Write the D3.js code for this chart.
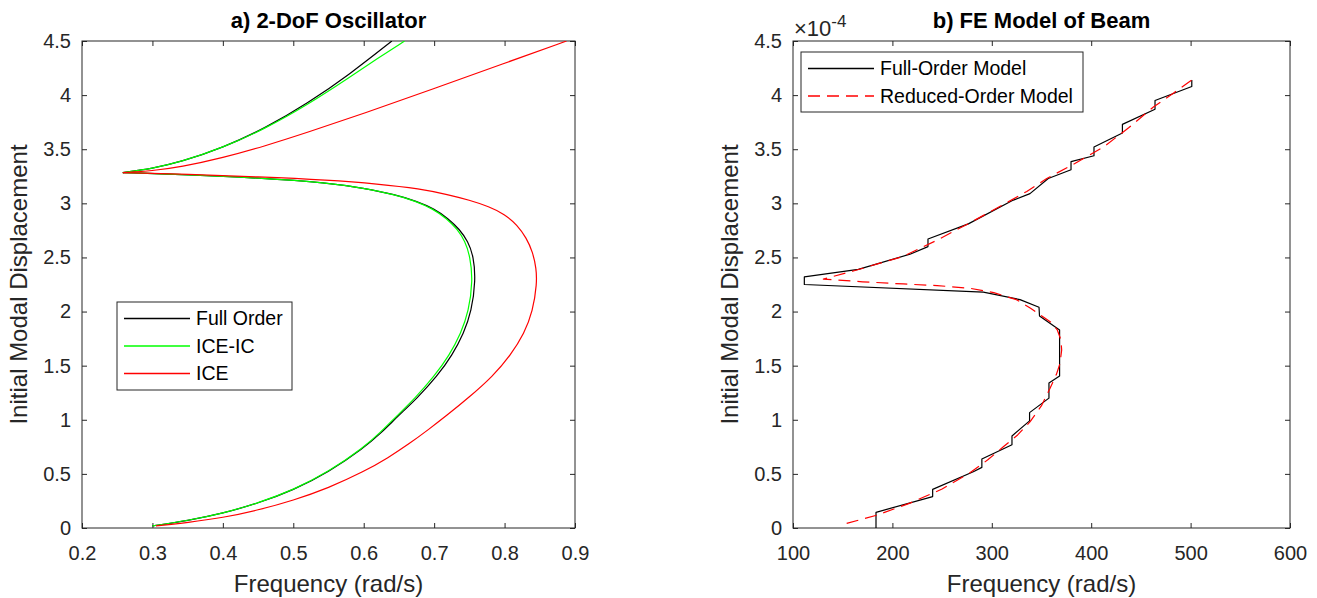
<!DOCTYPE html>
<html>
<head>
<meta charset="utf-8">
<script src="https://cdn.jsdelivr.net/npm/d3@7"></script>
<style>
  body { margin: 0; background: #fff; }
  svg text { font-family: "Liberation Sans", Arial, Helvetica, sans-serif; fill: #262626; }
</style>
</head>
<body>
<div id="chart"></div>
<script>
// ---- Data: a) 2-DoF oscillator, [frequency (rad/s), initial modal displacement]
// each response is split at the cusp into a lower branch (through the nose) and an upper branch
const fullOrderLower = [
  [0.300, 0.02], [0.35, 0.068], [0.40, 0.135], [0.45, 0.228], [0.50, 0.35], [0.55, 0.515],
  [0.60, 0.74], [0.625, 0.88], [0.648, 1.03], [0.676, 1.20], [0.704, 1.40], [0.726, 1.60],
  [0.742, 1.80], [0.753, 2.00], [0.759, 2.29], [0.756, 2.51], [0.748, 2.65], [0.736, 2.76],
  [0.720, 2.86], [0.700, 2.95], [0.675, 3.02], [0.645, 3.08], [0.60, 3.14], [0.55, 3.19],
  [0.45, 3.235], [0.35, 3.265], [0.258, 3.284]
];
const fullOrderUpper = [
  [0.258, 3.284], [0.30, 3.322], [0.34, 3.382], [0.40, 3.514], [0.46, 3.694], [0.52, 3.922],
  [0.58, 4.192], [0.64, 4.50]
];
const iceICLower = [
  [0.300, 0.02], [0.35, 0.068], [0.40, 0.136], [0.45, 0.23], [0.50, 0.352], [0.55, 0.518],
  [0.60, 0.745], [0.624, 0.885], [0.646, 1.03], [0.673, 1.20], [0.700, 1.40], [0.722, 1.60],
  [0.738, 1.80], [0.749, 2.00], [0.755, 2.29], [0.751, 2.51], [0.744, 2.65], [0.733, 2.76],
  [0.718, 2.86], [0.698, 2.95], [0.674, 3.02], [0.644, 3.08], [0.60, 3.14], [0.55, 3.19],
  [0.45, 3.235], [0.35, 3.265], [0.258, 3.284]
];
const iceICUpper = [
  [0.258, 3.284], [0.30, 3.322], [0.34, 3.382], [0.40, 3.514], [0.46, 3.690], [0.52, 3.91],
  [0.58, 4.165], [0.62, 4.34], [0.658, 4.50]
];
const iceLower = [
  [0.305, 0.02], [0.35, 0.05], [0.40, 0.095], [0.45, 0.165], [0.50, 0.255], [0.55, 0.37],
  [0.60, 0.52], [0.635, 0.65], [0.665, 0.78], [0.692, 0.91], [0.717, 1.035], [0.750, 1.21],
  [0.783, 1.40], [0.809, 1.60], [0.828, 1.80], [0.840, 2.00], [0.846, 2.26], [0.845, 2.40],
  [0.840, 2.55], [0.831, 2.68], [0.818, 2.80], [0.800, 2.90], [0.778, 2.97], [0.75, 3.03],
  [0.72, 3.08], [0.68, 3.135], [0.62, 3.18], [0.55, 3.215], [0.45, 3.245], [0.35, 3.268],
  [0.258, 3.284]
];
const iceUpper = [
  [0.258, 3.284], [0.30, 3.30], [0.34, 3.335], [0.40, 3.42], [0.46, 3.53], [0.52, 3.655],
  [0.60, 3.83], [0.70, 4.06], [0.80, 4.295], [0.888, 4.50]
];

// ---- Data: b) FE model of beam, [frequency (rad/s), displacement in units of 1e-4]
const beamFull = [
  [183.5, 0], [183.5, 0.145], [240.5, 0.29], [240.5, 0.357], [281.4, 0.52], [290, 0.56],
  [290, 0.638], [320.3, 0.77], [320.3, 0.85], [338, 0.99], [338, 1.066], [357.5, 1.20],
  [357.5, 1.34], [368.2, 1.405], [368.2, 1.83], [348, 1.96], [347.5, 2.04], [328.4, 2.11],
  [291.5, 2.18], [111.4, 2.25], [111.4, 2.32], [165.7, 2.39], [217.7, 2.53], [235.8, 2.60],
  [235.8, 2.67], [276.4, 2.81], [321.7, 3.03], [338.4, 3.09], [356.8, 3.23], [379.7, 3.31],
  [379.7, 3.385], [402.8, 3.44], [402.8, 3.52], [431.4, 3.65], [431.4, 3.73], [464.2, 3.87],
  [464.2, 3.95], [501.2, 4.08], [501.2, 4.14]
];
const beamReduced = [
  [154, 0.043], [185, 0.12], [217.7, 0.23], [250, 0.36], [278, 0.51], [296, 0.63],
  [311.6, 0.75], [326, 0.86], [338.4, 0.98], [350, 1.13], [358.5, 1.29], [365, 1.42],
  [368.6, 1.52], [370.3, 1.645], [369.5, 1.74], [365.9, 1.83], [359.5, 1.90], [351.8, 1.95],
  [339, 2.03], [324.8, 2.11], [302, 2.175], [278, 2.215], [245, 2.24], [211, 2.255],
  [170, 2.275], [130.5, 2.30], [160.7, 2.375], [185, 2.44], [211, 2.51], [245, 2.66],
  [278, 2.82], [308, 2.97], [335.2, 3.11], [355.3, 3.23], [384, 3.37], [412.3, 3.52],
  [438, 3.70], [462.6, 3.89], [483, 4.02], [502.9, 4.15]
];

// ---- Axis ticks
const oscXTicks = [0.2, 0.3, 0.4, 0.5, 0.6, 0.7, 0.8, 0.9];
const beamXTicks = [100, 200, 300, 400, 500, 600];
const dispTicks = [0, 0.5, 1, 1.5, 2, 2.5, 3, 3.5, 4, 4.5];

const W = 1317, H = 598;
const svg = d3.select('#chart').append('svg')
  .attr('width', W)
  .attr('height', H);

const axisColor = '#262626';
const plotTop = 41, plotBottom = 528;

function drawPanel(opts) {
  const x = d3.scaleLinear().domain(opts.xDomain).range([opts.left, opts.right]);
  const y = d3.scaleLinear().domain([0, 4.5]).range([plotBottom, plotTop]);
  const g = svg.append('g');

  const clipId = 'clip' + opts.id;
  g.append('clipPath').attr('id', clipId)
    .append('rect')
    .attr('x', opts.left).attr('y', plotTop)
    .attr('width', opts.right - opts.left).attr('height', plotBottom - plotTop);

  const tickFmtY = d => (d % 1 === 0 ? d3.format('d')(d) : d3.format('.1f')(d));

  // bottom / left axes carry labels, top / right only ticks
  const axes = [
    { ax: d3.axisBottom(x).tickValues(opts.xTicks).tickFormat(opts.xFmt), t: `translate(0,${plotBottom})`, pad: 18 },
    { ax: d3.axisTop(x).tickValues(opts.xTicks).tickFormat(''), t: `translate(0,${plotTop})`, pad: 0 },
    { ax: d3.axisLeft(y).tickValues(dispTicks).tickFormat(tickFmtY), t: `translate(${opts.left},0)`, pad: 11 },
    { ax: d3.axisRight(y).tickValues(dispTicks).tickFormat(''), t: `translate(${opts.right},0)`, pad: 0 }
  ];
  axes.forEach(a => {
    const ag = g.append('g').attr('transform', a.t)
      .call(a.ax.tickSizeInner(-5).tickSizeOuter(0).tickPadding(a.pad));
    ag.select('.domain').remove();
    ag.selectAll('line').attr('stroke', axisColor);
    ag.selectAll('text')
      .attr('font-size', 20)
      .attr('font-family', '"Liberation Sans", Arial, sans-serif')
      .attr('fill', axisColor);
  });

  // box
  g.append('rect')
    .attr('x', opts.left).attr('y', plotTop)
    .attr('width', opts.right - opts.left).attr('height', plotBottom - plotTop)
    .attr('fill', 'none')
    .attr('stroke', axisColor)
    .attr('stroke-width', 1);

  // series (each may have several branches)
  const cg = g.append('g').attr('clip-path', `url(#${clipId})`);
  opts.series.forEach(s => {
    const line = d3.line().x(d => x(d[0])).y(d => y(d[1])).curve(s.curve);
    s.branches.forEach(b => {
      cg.append('path')
        .datum(b)
        .attr('d', line)
        .attr('fill', 'none')
        .attr('stroke', s.color)
        .attr('stroke-width', 1.2)
        .attr('stroke-linejoin', 'round')
        .attr('stroke-dasharray', s.dash || null);
    });
  });

  // title and axis labels
  const cx = (opts.left + opts.right) / 2;
  g.append('text')
    .attr('x', cx).attr('y', 28)
    .attr('text-anchor', 'middle')
    .attr('font-size', 22)
    .attr('font-weight', 'bold')
    .style('fill', '#000')
    .text(opts.title);
  g.append('text')
    .attr('x', cx).attr('y', 592)
    .attr('text-anchor', 'middle')
    .attr('font-size', 24)
    .text('Frequency (rad/s)');
  g.append('text')
    .attr('transform', `translate(${opts.left - 55},284.5) rotate(-90)`)
    .attr('text-anchor', 'middle')
    .attr('font-size', 24)
    .text('Initial Modal Displacement');

  // legend
  const L = opts.legend;
  g.append('rect')
    .attr('x', L.x).attr('y', L.y)
    .attr('width', L.w).attr('height', L.h)
    .attr('fill', '#fff')
    .attr('stroke', axisColor)
    .attr('stroke-width', 1);
  opts.series.forEach((s, i) => {
    const ly = L.y + 16.5 + i * 27.5;
    g.append('line')
      .attr('x1', L.x + 7).attr('x2', L.x + 73)
      .attr('y1', ly).attr('y2', ly)
      .attr('stroke', s.color)
      .attr('stroke-width', 1.3)
      .attr('stroke-dasharray', s.dash || null);
    g.append('text')
      .attr('x', L.x + 79).attr('y', ly)
      .attr('dy', '0.35em')
      .attr('font-size', 19.5)
      .style('fill', '#000')
      .text(s.name);
  });
  return g;
}

// B-spline smooths the hand-read points; branches end exactly at the cusp
const smooth = d3.curveBasis;

drawPanel({
  id: 'a',
  left: 82, right: 575,
  xDomain: [0.2, 0.9],
  xTicks: oscXTicks,
  xFmt: d3.format('.1f'),
  title: 'a) 2-DoF Oscillator',
  series: [
    { name: 'Full Order', branches: [fullOrderLower, fullOrderUpper], color: '#000000', curve: smooth },
    { name: 'ICE-IC', branches: [iceICLower, iceICUpper], color: '#00ff00', curve: smooth },
    { name: 'ICE', branches: [iceLower, iceUpper], color: '#ff0000', curve: smooth }
  ],
  legend: { x: 117, y: 302, w: 175, h: 88 }
});

const gb = drawPanel({
  id: 'b',
  left: 793, right: 1290,
  xDomain: [100, 600],
  xTicks: beamXTicks,
  xFmt: d3.format('d'),
  title: 'b) FE Model of Beam',
  series: [
    { name: 'Full-Order Model', branches: [beamFull], color: '#000000', curve: d3.curveLinear },
    { name: 'Reduced-Order Model', branches: [beamReduced], color: '#ff0000', curve: d3.curveLinear, dash: '12,7' }
  ],
  legend: { x: 801, y: 52, w: 282, h: 60 }
});

// exponent label of the beam y axis
const expText = gb.append('text')
  .attr('x', 794).attr('y', 36)
  .attr('font-size', 22);
expText.append('tspan').text('\u00d710');
expText.append('tspan').attr('dy', -9).attr('font-size', 17).text('-4');
</script>
</body>
</html>
